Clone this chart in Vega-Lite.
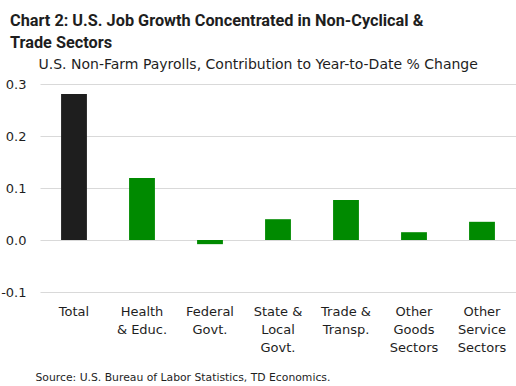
{
  "$schema": "https://vega.github.io/schema/vega-lite/v6.json",
  "width": 476,
  "height": 208,
  "autosize": {"type": "none"},
  "padding": {"left": 40, "top": 84, "right": 0, "bottom": 94},
  "background": "white",
  "config": {"view": {"stroke": null}, "font": "DejaVu Sans"},
  "title": {
    "text": ["Chart 2: U.S. Job Growth Concentrated in Non-Cyclical &", "Trade Sectors"],
    "anchor": "start",
    "frame": "group",
    "dx": -30,
    "offset": 6,
    "fontSize": 16.3,
    "fontWeight": "bold",
    "color": "#1e1e1e",
    "lineHeight": 22,
    "font": "Roboto"
  },
  "data": {
    "values": [
      {"sector": "Total", "value": 0.281, "kind": "total"},
      {"sector": "Health|& Educ.", "value": 0.119, "kind": "sector"},
      {"sector": "Federal|Govt.", "value": -0.008, "kind": "sector"},
      {"sector": "State &|Local|Govt.", "value": 0.040, "kind": "sector"},
      {"sector": "Trade &|Transp.", "value": 0.077, "kind": "sector"},
      {"sector": "Other|Goods|Sectors", "value": 0.015, "kind": "sector"},
      {"sector": "Other|Service|Sectors", "value": 0.035, "kind": "sector"}
    ]
  },
  "mark": {"type": "bar"},
  "encoding": {
    "x": {
      "field": "sector",
      "type": "nominal",
      "sort": null,
      "scale": {"paddingInner": 0.62, "paddingOuter": 0.31},
      "axis": {
        "title": "Source: U.S. Bureau of Labor Statistics, TD Economics.",
        "titleX": -5,
        "titleY": 88,
        "titleAnchor": "start",
        "titleAlign": "left",
        "titleBaseline": "alphabetic",
        "titleFontSize": 10.8,
        "titleFontWeight": "normal",
        "titleColor": "#1e1e1e",
        "labelAngle": 0,
        "labelExpr": "split(datum.label, '|')",
        "labelFontSize": 13,
        "labelColor": "#1e1e1e",
        "labelPadding": 13,
        "labelLineHeight": 18,
        "labelBaseline": "top",
        "ticks": false,
        "domain": false
      }
    },
    "y": {
      "field": "value",
      "type": "quantitative",
      "scale": {"domain": [-0.1, 0.3], "nice": false, "zero": false},
      "axis": {
        "title": "U.S. Non-Farm Payrolls, Contribution to Year-to-Date % Change",
        "titleAngle": 0,
        "titleX": -2,
        "titleY": -16,
        "titleAlign": "left",
        "titleBaseline": "alphabetic",
        "titleFontSize": 14,
        "titleFontWeight": "normal",
        "titleColor": "#1e1e1e",
        "values": [-0.1, 0, 0.1, 0.2, 0.3],
        "labelExpr": "replace(format(datum.value, '.1f'), '\u2212', '-')",
        "labelFontSize": 13,
        "labelColor": "#1e1e1e",
        "labelPadding": 14,
        "ticks": false,
        "domain": false,
        "gridColor": "#d9d9d9",
        "gridWidth": 1.2
      }
    },
    "color": {
      "field": "kind",
      "type": "nominal",
      "scale": {"domain": ["total", "sector"], "range": ["#1e1e1e", "#008a00"]},
      "legend": null
    }
  }
}
